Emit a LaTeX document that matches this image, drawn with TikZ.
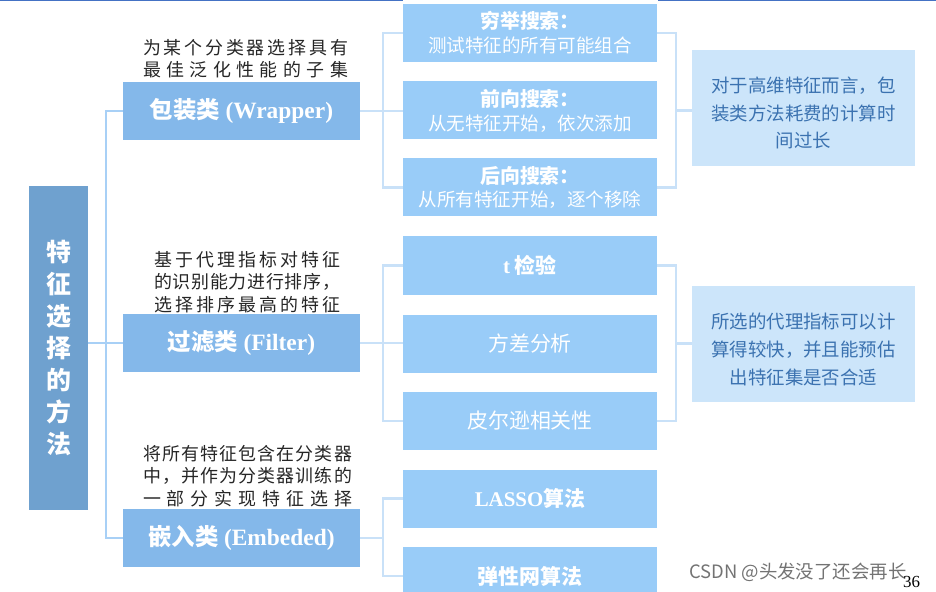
\documentclass[tikz,border=0pt]{standalone}
\usepackage{fontspec}
\setmainfont{Noto Sans CJK SC}
\newfontfamily\tnr{Liberation Serif}
\usetikzlibrary{calc}
\definecolor{rootBlue}{HTML}{6FA1CF}
\definecolor{catBlue}{HTML}{84B8EA}
\definecolor{leafBlue}{HTML}{99CCF8}
\definecolor{noteBlue}{HTML}{CCE5FA}
\definecolor{noteText}{HTML}{3B72B0}
\definecolor{lineBlue}{HTML}{C9E1F8}
\definecolor{trunkBlue}{HTML}{A8D0F6}
\definecolor{slideBlue}{HTML}{4472C4}
% one line of characters stretched to a given width
\newcommand\spreadline[2]{\makebox[#1][s]{\spreadchars#2\relax}}
\def\spreadchars#1#2{#1\ifx\relax#2\else\hfill\expandafter\spreadchars\expandafter#2\fi}

\begin{document}
\begin{tikzpicture}[x=1bp, y=-1bp,
    root/.style={fill=rootBlue, text=white, minimum width=59bp, minimum height=324bp, inner sep=0pt, align=center, font=\fontsize{25}{32}\selectfont\bfseries},
    cat/.style={fill=catBlue, text=white, minimum width=237bp, minimum height=58bp, inner sep=0pt, font=\fontsize{23.5}{26}\selectfont\bfseries},
    leaf/.style={fill=leafBlue, text=white, minimum width=254bp, minimum height=58bp, inner sep=0pt, align=center, font=\fontsize{20}{24}\selectfont},
    note/.style={fill=noteBlue, text=noteText, minimum width=223bp, minimum height=116bp, inner sep=0pt, align=center, text height=82bp, text depth=2bp, font=\fontsize{18.5}{28}\selectfont},
    desc/.style={text=black!85, inner sep=0pt, align=center, font=\fontsize{18}{22.5}\selectfont},
    link/.style={draw=lineBlue, line width=2.5bp},
    trunk/.style={draw=trunkBlue, line width=2.5bp}]
  \clip (0,0) rectangle (936,592);
  \draw[slideBlue, line width=3bp] (0,0) -- (403,0) (658,0) -- (936,0);

  % root and the three kinds
  \node[root] (root) at (58.5,348) {特\\征\\选\\择\\的\\方\\法};
  \node[cat] (wrapper) at (241.5,111) {包装类 {\tnr (Wrapper)}};
  \node[cat] (filter) at (241.5,343) {过滤类 {\tnr (Filter)}};
  \node[cat] (embed) at (241.5,538) {嵌入类 {\tnr (Embeded)}};

  \node[desc] (wdesc) at (245.5,58.5) {\spreadline{205bp}{为某个分类器选择具有}\\\spreadline{205bp}{最佳泛化性能的子集}};
  \node[desc] (fdesc) at (247,282) {\spreadline{186bp}{基于代理指标对特征}\\\spreadline{186bp}{的识别能力进行排序，}\\\spreadline{186bp}{选择排序最高的特征}};
  \node[desc] (edesc) at (247.5,476) {\spreadline{209bp}{将所有特征包含在分类器}\\\spreadline{209bp}{中，并作为分类器训练的}\\\spreadline{209bp}{一部分实现特征选择}};

  % methods
  \foreach \n/\y/\head/\body in {w1/33/穷举搜索：/测试特征的所有可能组合, w2/110.5/前向搜索：/从无特征开始，依次添加, w3/187.5/后向搜索：/从所有特征开始，逐个移除}
    \node[leaf] (\n) at (530,\y) {{\bfseries\head}\\{\fontsize{18.6}{24}\selectfont\body}};
  \foreach \n/\y/\txt in {f1/265.5/{\bfseries{\tnr t} 检验}, f2/343.5/方差分析, f3/421/皮尔逊相关性}
    \node[leaf, font=\fontsize{21}{24}\selectfont] (\n) at (530,\y) {\txt};
  \foreach \n/\y/\txt in {e1/498.5/{{\tnr LASSO}算法}, e2/576/弹性网算法}
    \node[leaf, font=\fontsize{21}{24}\selectfont\bfseries] (\n) at (530,\y) {\txt};

  % remarks
  \node[note] (note1) at (803.5,108) {对于高维特征而言，包\\装类方法耗费的计算时\\间过长};
  \node[note] (note2) at (803.5,344) {所选的代理指标可以计\\算得较快，并且能预估\\出特征集是否合适};

  % connectors
  \coordinate (trunkx) at (106,0);
  \coordinate (lb) at (383,0);
  \coordinate (rb) at (676,0);
  \draw[trunk] (wrapper.west) -| (trunkx |- filter) |- (embed.west);
  \draw[trunk] (root.east |- filter) -- (filter.west);

  \draw[link] (w1.west) -| (lb |- w2) |- (w3.west);
  \draw[link] (wrapper.east) -- (lb |- wrapper) -- (w2.west |- wrapper);
  \draw[link] (w1.east) -| (rb |- w2) |- (w3.east);
  \draw[link] (w2.east -| rb) -- (note1.west |- w2);

  \draw[link] (f1.west) -| (lb |- f2) |- (f3.west);
  \draw[link] (filter.east) -- (f2.west |- filter);
  \draw[link] (f1.east) -| (rb |- f2) |- (f3.east);
  \draw[link] (f2.east -| rb) -- (note2.west |- f2);

  \draw[link] (e1.west) -| (lb |- embed) |- (e2.west);
  \draw[link] (embed.east) -- (lb |- embed);

  % watermark and page number
  \node[anchor=west, text=black!55, inner sep=0pt, font=\fontsize{18.5}{19}\selectfont] (mark) at (689,572) {CSDN @头发没了还会再长};
  \node[anchor=west, inner sep=0pt, font=\tnr\fontsize{17}{17}\selectfont] (page) at (903,582) {36};
\end{tikzpicture}
\end{document}
